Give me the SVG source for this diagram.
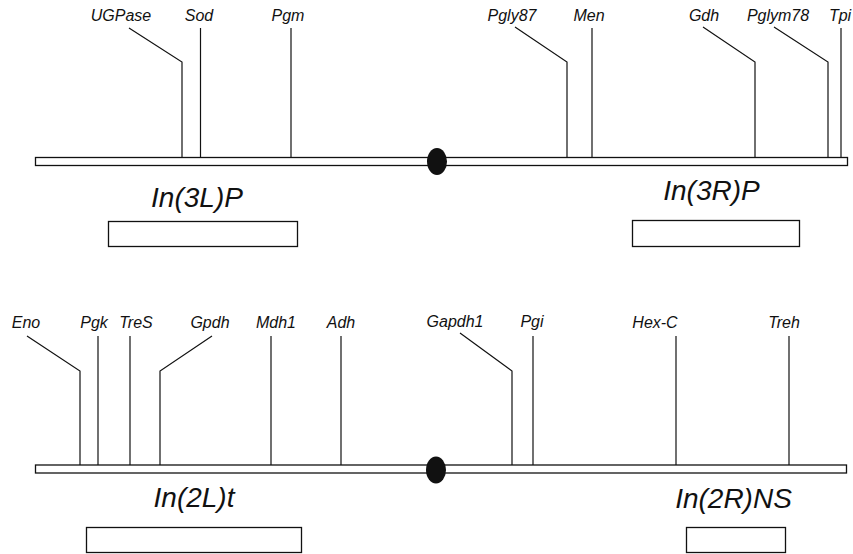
<svg xmlns="http://www.w3.org/2000/svg" width="853" height="554" viewBox="0 0 853 554">
<style>
.bg{fill:#fff}
.chr{fill:#fff;stroke:#111;stroke-width:1.3}
.cen{fill:#111}
.lead{fill:none;stroke:#111;stroke-width:1.2}
.gene{font-family:"Liberation Sans",Arial,sans-serif;font-style:italic;font-size:16px;fill:#111;text-anchor:middle}
.inv{font-family:"Liberation Sans",Arial,sans-serif;font-style:italic;font-size:28px;fill:#111;text-anchor:middle}
.box{fill:#fff;stroke:#111;stroke-width:1.3}
</style>
<rect class="bg" x="0" y="0" width="853" height="554"/>
<g id="chromosome3">
  <rect class="chr" x="35.5" y="157.5" width="812" height="8"/>
  <ellipse class="cen" cx="437" cy="161.5" rx="10" ry="13.5"/>
</g>
<g id="chromosome2">
  <rect class="chr" x="35.5" y="465" width="811" height="8"/>
  <ellipse class="cen" cx="436" cy="470" rx="10" ry="13.5"/>
</g>
<g id="connectors">
  <polyline class="lead" points="129,28 182,62 182,157.5"/>
  <polyline class="lead" points="200.5,28 200.5,157.5"/>
  <polyline class="lead" points="291,28 291,157.5"/>
  <polyline class="lead" points="515,27 567,62 567,157.5"/>
  <polyline class="lead" points="592,28 592,157.5"/>
  <polyline class="lead" points="703,27 755,62 755,157.5"/>
  <polyline class="lead" points="774,27 828,62 828,157.5"/>
  <polyline class="lead" points="841,28 841,157.5"/>
  <polyline class="lead" points="27,336 80,371 80,465"/>
  <polyline class="lead" points="98,336 98,465"/>
  <polyline class="lead" points="130,336 130,465"/>
  <polyline class="lead" points="212,336 160,371 160,465"/>
  <polyline class="lead" points="271,336 271,465"/>
  <polyline class="lead" points="341,336 341,465"/>
  <polyline class="lead" points="460,333 512,371 512,465"/>
  <polyline class="lead" points="533,336 533,465"/>
  <polyline class="lead" points="676,336 676,465"/>
  <polyline class="lead" points="789,336 789,465"/>
</g>
<g id="UGPase"><text class="gene" x="121" y="21">UGPase</text></g>
<g id="Sod"><text class="gene" x="199" y="21">Sod</text></g>
<g id="Pgm"><text class="gene" x="288" y="21">Pgm</text></g>
<g id="Pgly87"><text class="gene" x="512" y="21">Pgly87</text></g>
<g id="Men"><text class="gene" x="589" y="21">Men</text></g>
<g id="Gdh"><text class="gene" x="704" y="21">Gdh</text></g>
<g id="Pglym78"><text class="gene" x="778" y="21">Pglym78</text></g>
<g id="Tpi"><text class="gene" x="840" y="21">Tpi</text></g>
<g id="Eno"><text class="gene" x="26" y="328">Eno</text></g>
<g id="Pgk"><text class="gene" x="94" y="328">Pgk</text></g>
<g id="TreS"><text class="gene" x="136" y="328">TreS</text></g>
<g id="Gpdh"><text class="gene" x="210" y="328">Gpdh</text></g>
<g id="Mdh1"><text class="gene" x="276" y="328">Mdh1</text></g>
<g id="Adh"><text class="gene" x="341" y="328">Adh</text></g>
<g id="Gapdh1"><text class="gene" x="455" y="327">Gapdh1</text></g>
<g id="Pgi"><text class="gene" x="532" y="327">Pgi</text></g>
<g id="Hex-C"><text class="gene" x="655" y="328">Hex-C</text></g>
<g id="Treh"><text class="gene" x="784" y="328">Treh</text></g>
<g id="In3LP">
  <text class="inv" x="197" y="207">In(3L)P</text>
  <rect class="box" x="108.5" y="221.5" width="189" height="25"/>
</g>
<g id="In3RP">
  <text class="inv" x="711.5" y="200">In(3R)P</text>
  <rect class="box" x="632.5" y="220.5" width="167" height="26"/>
</g>
<g id="In2Lt">
  <text class="inv" x="194" y="507">In(2L)t</text>
  <rect class="box" x="86.5" y="527.5" width="215" height="25"/>
</g>
<g id="In2RNS">
  <text class="inv" x="733.5" y="508">In(2R)NS</text>
  <rect class="box" x="686.5" y="527.5" width="99" height="25"/>
</g>
</svg>
